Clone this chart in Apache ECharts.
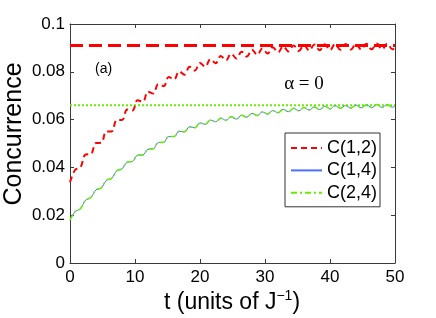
<!DOCTYPE html>
<html><head><meta charset="utf-8">
<script src="https://cdn.jsdelivr.net/npm/echarts@6/dist/echarts.min.js"></script>
<style>html,body{margin:0;padding:0;background:#fff}#c{width:436px;height:318px}</style>
</head><body><div id="c"></div>
<script>
var tValues = [0,0.8,1.6,2.4,3.2,4,4.8,5.6,6.4,7.2,8,8.8,9.6,10.4,11.2,12,12.8,13.6,14.4,15.2,16,16.8,17.6,18.4,19.2,20,20.8,21.6,22.4,23.2,24,24.8,25.6,26.4,27.2,28,28.8,29.6,30.4,31.2,32,32.8,33.6,34.4,35.2,36,36.8,37.6,38.4,39.2,40,40.8,41.6,42.4,43.2,44,44.8,45.6,46.4,47.2,48,48.8,49.6,50];
var c12 = [0.0338,0.0390,0.0400,0.0454,0.0456,0.0502,0.0503,0.0550,0.0550,0.0598,0.0598,0.0642,0.0638,0.0681,0.0675,0.0717,0.0709,0.0749,0.0740,0.0778,0.0768,0.0802,0.0788,0.0821,0.0805,0.0837,0.0821,0.0853,0.0836,0.0866,0.0848,0.0876,0.0856,0.0884,0.0864,0.0892,0.0871,0.0898,0.0877,0.0903,0.0881,0.0907,0.0885,0.0910,0.0887,0.0912,0.0889,0.0914,0.0890,0.0915,0.0891,0.0916,0.0892,0.0916,0.0893,0.0917,0.0893,0.0917,0.0894,0.0918,0.0894,0.0918,0.0894,0.0900];
var c14 = [0.0180,0.0215,0.0227,0.0263,0.0274,0.0306,0.0314,0.0346,0.0354,0.0386,0.0394,0.0422,0.0425,0.0451,0.0452,0.0476,0.0478,0.0504,0.0505,0.0529,0.0529,0.0551,0.0549,0.0570,0.0566,0.0586,0.0580,0.0598,0.0591,0.0606,0.0597,0.0612,0.0602,0.0618,0.0610,0.0626,0.0617,0.0632,0.0623,0.0638,0.0629,0.0643,0.0633,0.0647,0.0637,0.0651,0.0640,0.0653,0.0642,0.0656,0.0645,0.0658,0.0647,0.0659,0.0648,0.0661,0.0649,0.0662,0.0650,0.0663,0.0651,0.0663,0.0652,0.0656];
var c24 = c14.slice();
var c12Limit = 0.091;
var c24Limit = 0.066;
var xTicks = [0,10,20,30,40,50];
var yTicks = [0,0.02,0.04,0.06,0.08,0.1];

function pairs(xs, ys){ return xs.map(function(x,i){ return [x, ys[i]]; }); }
var F = 'Liberation Sans, Arial, sans-serif';
var axisCol = '#3a3a3a';
var chart = echarts.init(document.getElementById('c'), null, {renderer:'canvas'});
var baseX = {type:'value', min:xTicks[0], max:xTicks[xTicks.length-1], interval:10,
  axisLine:{show:true,onZero:false,lineStyle:{color:axisCol,width:1}},
  axisTick:{show:true,inside:true,length:4,lineStyle:{color:axisCol}},
  splitLine:{show:false}};
var baseY = {type:'value', min:yTicks[0], max:yTicks[yTicks.length-1], interval:0.02,
  axisLine:{show:true,onZero:false,lineStyle:{color:axisCol,width:1}},
  axisTick:{show:true,inside:true,length:4,lineStyle:{color:axisCol}},
  splitLine:{show:false}};
chart.setOption({
  animation:false,
  grid:{left:70,right:41,top:24,bottom:55,containLabel:false},
  xAxis:[
    Object.assign({}, baseX, {position:'bottom', axisLabel:{color:'#000',fontSize:17,fontFamily:F,margin:6}}),
    Object.assign({}, baseX, {position:'top', axisLabel:{show:false}})
  ],
  yAxis:[
    Object.assign({}, baseY, {position:'left', axisLabel:{color:'#000',fontSize:17,fontFamily:F,margin:5,
      formatter:function(v){ return String(+v.toFixed(2)); }}}),
    Object.assign({}, baseY, {position:'right', axisLabel:{show:false}})
  ],
  legend:{
    data:['C(1,2)','C(1,4)','C(2,4)'],
    orient:'vertical', left:285, top:133,
    padding:[6,3,5,5], itemGap:4.4, itemWidth:31, itemHeight:18,
    borderColor:'#333', borderWidth:1, backgroundColor:'#fff', borderRadius:0,
    itemStyle:{opacity:0},
    textStyle:{color:'#000',fontSize:18,fontFamily:F,lineHeight:18},
    selectedMode:false
  },
  series:[
    {name:'lim12', type:'line', data:[[0,c12Limit],[50,c12Limit]], showSymbol:false, symbol:'none',
      lineStyle:{color:'#ff0000',width:3,type:[13,6]}, silent:true, z:2},
    {name:'lim24', type:'line', data:[[0,c24Limit],[50,c24Limit]], showSymbol:false, symbol:'none',
      lineStyle:{color:'#66ee00',width:2,type:[2,2]}, silent:true, z:2},
    {name:'C(1,2)', type:'line', data:pairs(tValues,c12), smooth:0.4, showSymbol:false, symbol:'none',
      lineStyle:{color:'#ff0000',width:2,type:[6,4]}, itemStyle:{color:'#ff0000'}, z:3},
    {name:'C(1,4)', type:'line', data:pairs(tValues,c14), smooth:0.4, showSymbol:false, symbol:'none',
      lineStyle:{color:'#4f6fff',width:1,type:'solid'}, itemStyle:{color:'#4f6fff'}, z:3},
    {name:'C(2,4)', type:'line', data:pairs(tValues,c24), smooth:0.4, showSymbol:false, symbol:'none',
      lineStyle:{color:'#66ee00',width:1.5,type:[6,3,2,3]}, itemStyle:{color:'#66ee00'}, z:4}
  ],
  graphic:[
    {type:'text', x:14, y:134, rotation:Math.PI/2,
      style:{text:'Concurrence', fontSize:25, fontFamily:F, fill:'#000', align:'center', verticalAlign:'middle'}},
    {type:'text', x:232, y:303,
      style:{text:'{a|t (units of J}{s|−1}{a|)}', align:'center', verticalAlign:'middle',
        rich:{a:{fontSize:23,fontFamily:F,fill:'#000',color:'#000'},
              s:{fontSize:14,fontFamily:F,fill:'#000',color:'#000',padding:[0,0,13,0]}}}},
    {type:'text', x:95, y:69,
      style:{text:'(a)', fontSize:14, fontFamily:F, fill:'#000', align:'left', verticalAlign:'middle'}},
    {type:'text', x:304, y:84,
      style:{text:'α = 0', fontSize:19, fontFamily:'Liberation Serif, Times New Roman, serif', fill:'#000', align:'center', verticalAlign:'middle'}}
  ]
});
</script></body></html>
